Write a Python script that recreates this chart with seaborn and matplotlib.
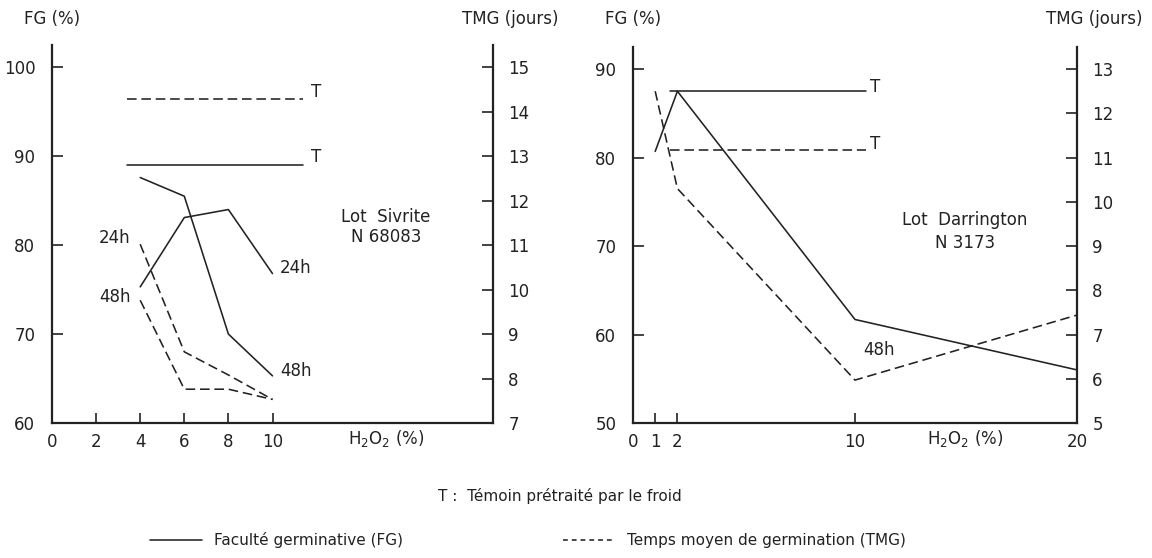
import matplotlib
matplotlib.use("Agg")
import matplotlib.pyplot as plt
from matplotlib.lines import Line2D
import seaborn as sns

# Lot Sivrite N 68083  (H2O2 %, FG %, TMG jours)
sivrite_h2o2 = [4, 6, 8, 10]
sivrite_fg_48h = [87.6, 85.5, 70.0, 65.3]
sivrite_fg_24h = [75.3, 83.1, 84.0, 76.8]
sivrite_tmg_24h = [11.02, 8.6, 8.08, 7.53]
sivrite_tmg_48h = [9.76, 7.76, 7.76, 7.53]
sivrite_t_span = [3.4, 11.4]
sivrite_t_fg = 89.0
sivrite_t_tmg = 14.28

# Lot Darrington N 3173
darr_h2o2 = [1, 2, 10, 20]
darr_fg = [80.7, 87.5, 61.7, 56.0]
darr_tmg = [12.5, 10.3, 5.97, 7.44]
darr_t_span = [1.65, 10.5]
darr_t_fg = 87.5
darr_t_tmg = 11.18

sivrite_xticks = [0, 2, 4, 6, 8, 10]
darr_xticks = [0, 1, 2, 10, 20]

sns.set_theme(style="white")
plt.rcParams["font.family"] = ["DejaVu Sans"]
plt.rcParams["mathtext.fontset"] = "dejavusans"

INK = "#222222"
LW = 1.15
DASH = (0, (6, 3))
FS = 12

fig = plt.figure(figsize=(11.52, 5.58), dpi=100)
W, H = 1152, 558


def px_axes(x0, x1, y_top, y_bot):
    return fig.add_axes([x0 / W, 1 - y_bot / H, (x1 - x0) / W, (y_bot - y_top) / H])


def style_pair(ax, tw, xticks, fg_lim, tmg_lim, fg_ticks, tmg_ticks):
    ax.set_xlim(0, 20)
    ax.set_ylim(*fg_lim)
    tw.set_ylim(*tmg_lim)
    ax.set_xticks(xticks)
    ax.set_yticks(fg_ticks)
    tw.set_yticks(tmg_ticks)
    for a in (ax, tw):
        a.set_facecolor("none")
        a.grid(False)
        a.spines["top"].set_visible(False)
        for s in a.spines.values():
            s.set_color(INK)
            s.set_linewidth(1.6)
    ax.spines["right"].set_visible(False)
    tw.spines["left"].set_visible(False)
    tw.spines["bottom"].set_visible(False)
    ax.tick_params(axis="y", left=True, direction="in", length=8, width=1.2, color=INK,
                   labelsize=FS, labelcolor=INK, pad=12)
    ax.tick_params(axis="x", bottom=True, direction="in", length=7, width=1.2, color=INK,
                   labelsize=FS, labelcolor=INK, pad=7)
    tw.tick_params(axis="y", right=True, direction="in", length=8, width=1.2, color=INK,
                   labelsize=FS, labelcolor=INK, pad=11)
    ax.set_xlabel("")
    ax.set_ylabel("")
    tw.set_ylabel("")


def line(ax, x, y, dashed=False):
    sns.lineplot(x=x, y=y, ax=ax, color=INK, linewidth=LW, sort=False,
                 linestyle=DASH if dashed else "-", legend=False)


def label(ax, x, y, s, ha="center"):
    ax.text(x, y, s, ha=ha, va="center", fontsize=FS, color=INK)


def header(x_left_axis, x_right_axis):
    # "FG (%)" above the left axis, "TMG (jours)" above the right one
    fig.text((x_left_axis - 28) / W, 1 - 19 / H, "FG (%)", ha="left", va="center",
             fontsize=FS, color=INK)
    fig.text((x_right_axis + 65) / W, 1 - 19 / H, "TMG (jours)", ha="right",
             va="center", fontsize=FS, color=INK)


def h2o2_label(ax, x):
    ax.annotate("H$_2$O$_2$ (%)", xy=(x, 0), xycoords=("data", "axes fraction"),
                xytext=(0, -11.5), textcoords="offset points", ha="center", va="center",
                fontsize=FS, color=INK)


# ---------- left panel: Lot Sivrite ----------
ax1 = px_axes(52, 493, 45, 423)
tw1 = ax1.twinx()
line(ax1, sivrite_h2o2, sivrite_fg_48h)
line(ax1, sivrite_h2o2, sivrite_fg_24h)
line(ax1, sivrite_t_span, [sivrite_t_fg] * 2)
line(tw1, sivrite_h2o2, sivrite_tmg_24h, dashed=True)
line(tw1, sivrite_h2o2, sivrite_tmg_48h, dashed=True)
line(tw1, sivrite_t_span, [sivrite_t_tmg] * 2, dashed=True)
style_pair(ax1, tw1, sivrite_xticks, (60, 102.5), (7, 15.5),
           [60, 70, 80, 90, 100], list(range(7, 16)))

label(ax1, 3.55, 80.8, "24h", ha="right")
label(ax1, 3.55, 74.2, "48h", ha="right")
label(ax1, 10.35, 77.4, "24h", ha="left")
label(ax1, 10.35, 65.8, "48h", ha="left")
label(ax1, 12.0, 89.9, "T")
label(tw1, 12.0, 14.45, "T")
label(ax1, 15.15, 83.2, "Lot  Sivrite")
label(ax1, 15.15, 80.9, "N 68083")
h2o2_label(ax1, 15.15)
header(52, 493)

# ---------- right panel: Lot Darrington ----------
ax2 = px_axes(633, 1077, 47, 423)
tw2 = ax2.twinx()
line(ax2, darr_h2o2, darr_fg)
line(ax2, darr_t_span, [darr_t_fg] * 2)
line(tw2, darr_h2o2, darr_tmg, dashed=True)
line(tw2, darr_t_span, [darr_t_tmg] * 2, dashed=True)
style_pair(ax2, tw2, darr_xticks, (50, 92.5), (5, 13.5),
           [50, 60, 70, 80, 90], list(range(5, 14)))

label(ax2, 10.9, 88.0, "T")
label(tw2, 10.9, 11.3, "T")
label(ax2, 11.1, 58.2, "48h")
label(ax2, 14.95, 72.9, "Lot  Darrington")
label(ax2, 14.95, 70.4, "N 3173")
h2o2_label(ax2, 14.95)
header(633, 1077)

# ---------- caption and key ----------
fig.text(560 / W, 1 - 496 / H, "T :  Témoin prétraité par le froid", ha="center",
         va="center", fontsize=FS - 1, color=INK)
handles = [Line2D([], [], color=INK, linewidth=LW),
           Line2D([], [], color=INK, linewidth=LW, linestyle=(0, (3, 2.5)))]
fig.legend(handles, ["Faculté germinative (FG)", "Temps moyen de germination (TMG)"],
           loc="center", bbox_to_anchor=(528 / W, 1 - 540 / H), ncol=2, frameon=False,
           fontsize=FS - 1, handlelength=3.4, columnspacing=10.5, handletextpad=0.8,
           labelcolor=INK)

fig.savefig("out.png", dpi=100)
